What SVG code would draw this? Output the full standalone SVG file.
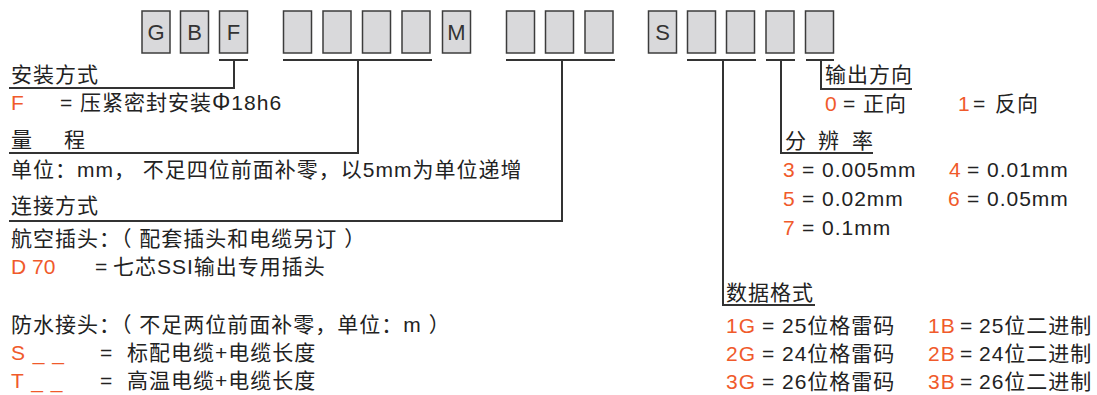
<svg xmlns="http://www.w3.org/2000/svg" width="1097" height="395" viewBox="0 0 1097 395">
<style>
text{font-family:"Liberation Sans","Noto Sans CJK SC",sans-serif;font-size:21px;letter-spacing:1px;fill:#222}
.r{fill:#f05a2b}
.n{letter-spacing:0}
.box rect{fill:#d9d9db;stroke:#3c3c3c;stroke-width:1.5}
.box text{font-size:22px;letter-spacing:0;text-anchor:middle;fill:#333}
.ln{stroke:#333;stroke-width:2;fill:none}
</style>
<rect width="1097" height="395" fill="#fff"/>
<g id="code">
<g id="box-G" class="box"><rect x="142" y="11" width="28" height="42"/><text x="156" y="40">G</text></g>
<g id="box-B" class="box"><rect x="180.5" y="11" width="28" height="42"/><text x="194.5" y="40">B</text></g>
<g id="box-F" class="box"><rect x="219.5" y="11" width="28" height="42"/><text x="233.5" y="40">F</text></g>
<g id="box-range1" class="box"><rect x="283.5" y="11" width="28" height="42"/></g>
<g id="box-range2" class="box"><rect x="323" y="11" width="28" height="42"/></g>
<g id="box-range3" class="box"><rect x="362.5" y="11" width="28" height="42"/></g>
<g id="box-range4" class="box"><rect x="402" y="11" width="28" height="42"/></g>
<g id="box-M" class="box"><rect x="442.5" y="11" width="28" height="42"/><text x="456.5" y="40">M</text></g>
<g id="box-conn1" class="box"><rect x="506.5" y="11" width="28" height="42"/></g>
<g id="box-conn2" class="box"><rect x="545.5" y="11" width="28" height="42"/></g>
<g id="box-conn3" class="box"><rect x="585" y="11" width="28" height="42"/></g>
<g id="box-S" class="box"><rect x="648.5" y="11" width="28" height="42"/><text x="662.5" y="40">S</text></g>
<g id="box-fmt1" class="box"><rect x="687.5" y="11" width="28" height="42"/></g>
<g id="box-fmt2" class="box"><rect x="726.5" y="11" width="28" height="42"/></g>
<g id="box-res" class="box"><rect x="766" y="11" width="28" height="42"/></g>
<g id="box-dir" class="box"><rect x="805.5" y="11" width="28" height="42"/></g>
</g>
<g id="connectors" class="ln">
<path d="M219 60H248M234 60V88H9"/>
<path d="M283 60H432M358 60V153H9"/>
<path d="M506 60H615M562 60V221H9"/>
<path d="M687 60H756M723 60V305H815"/>
<path d="M766 60H795M781 60V153H873"/>
<path d="M806 60H834M821 60V89H912"/>
</g>
<g id="legend-install">
<text x="11" y="82">安装方式</text>
<text x="11" y="110" class="r">F</text>
<text x="60" y="110">=</text>
<text x="80" y="110">压紧密封安装<tspan font-size="23">Φ</tspan>18h6</text>
</g>
<g id="legend-range">
<text x="11" y="147">量</text><text x="64" y="147">程</text>
<text x="11" y="177">单位：mm， 不足四位前面补零，以5mm为单位递增</text>
</g>
<g id="legend-conn">
<text x="11" y="213">连接方式</text>
<text x="11" y="246">航空插头：（ 配套插头和电缆另订 ）</text>
<text x="11" y="274" class="r n">D 70</text>
<text x="95" y="274">=</text>
<text x="113" y="274">七芯SSI输出专用插头</text>
<text x="11" y="332">防水接头：（ 不足两位前面补零，单位：m ）</text>
<text x="11" y="360" class="r">S _ _</text>
<text x="100" y="360">=</text>
<text x="127" y="360">标配电缆+电缆长度</text>
<text x="11" y="388" class="r">T _ _</text>
<text x="100" y="388">=</text>
<text x="127" y="388">高温电缆+电缆长度</text>
</g>
<g id="legend-dir">
<text x="825" y="82">输出方向</text>
<text x="825" y="111" class="r">0</text>
<text x="843" y="111">=</text>
<text x="863" y="111">正向</text>
<text x="958" y="111" class="r">1</text>
<text x="973" y="111">=</text>
<text x="995" y="111">反向</text>
</g>
<g id="legend-res">
<text x="785" y="148">分</text><text x="818" y="148">辨</text><text x="852" y="148">率</text>
<text x="783" y="177" class="r">3</text><text x="802" y="177">=</text><text x="822" y="177">0.005mm</text>
<text x="949" y="177" class="r">4</text><text x="967" y="177">=</text><text x="987" y="177">0.01mm</text>
<text x="783" y="206" class="r">5</text><text x="802" y="206">=</text><text x="822" y="206">0.02mm</text>
<text x="948" y="206" class="r">6</text><text x="967" y="206">=</text><text x="987" y="206">0.05mm</text>
<text x="783" y="235" class="r">7</text><text x="802" y="235">=</text><text x="822" y="235">0.1mm</text>
</g>
<g id="legend-fmt">
<text x="726" y="300">数据格式</text>
<text x="726" y="333" class="r">1G</text><text x="762" y="333">=</text><text x="782" y="333">25位格雷码</text>
<text x="928" y="333" class="r">1B</text><text x="960" y="333">=</text><text x="979" y="333">25位二进制</text>
<text x="726" y="361" class="r">2G</text><text x="762" y="361">=</text><text x="782" y="361">24位格雷码</text>
<text x="928" y="361" class="r">2B</text><text x="960" y="361">=</text><text x="979" y="361">24位二进制</text>
<text x="726" y="389" class="r">3G</text><text x="762" y="389">=</text><text x="782" y="389">26位格雷码</text>
<text x="928" y="389" class="r">3B</text><text x="960" y="389">=</text><text x="979" y="389">26位二进制</text>
</g>
</svg>
